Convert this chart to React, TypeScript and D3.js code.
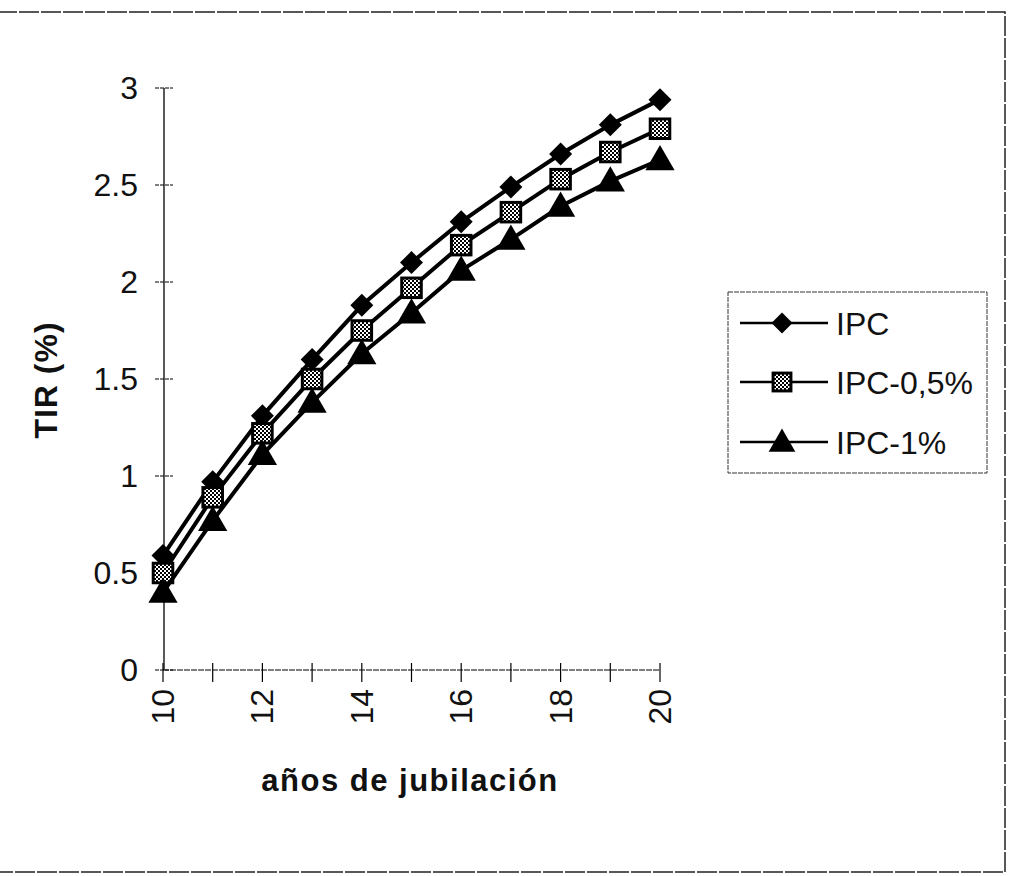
import React from "react";
import * as d3 from "d3";

// Data
const years = [10, 11, 12, 13, 14, 15, 16, 17, 18, 19, 20];
const ipc = [0.59, 0.97, 1.31, 1.6, 1.88, 2.1, 2.31, 2.49, 2.66, 2.81, 2.94];
const ipc05 = [0.5, 0.89, 1.22, 1.5, 1.75, 1.97, 2.19, 2.36, 2.53, 2.67, 2.79];
const ipc1 = [0.4, 0.77, 1.11, 1.38, 1.63, 1.84, 2.06, 2.22, 2.39, 2.52, 2.63];
const yTicks = [0, 0.5, 1, 1.5, 2, 2.5, 3];
const xTickLabels = [10, 12, 14, 16, 18, 20];
const seriesNames = ["IPC", "IPC-0,5%", "IPC-1%"];
const seriesShapes = ["diamond", "square", "triangle"];

const W = 1010;
const H = 876;
const FONT = "'Liberation Sans', Arial, sans-serif";

const Marker = ({ shape, x, y, s }: { shape: string; x: number; y: number; s: number }) => {
  if (shape === "diamond") {
    return (
      <path
        d={`M${x},${y - s}L${x + s},${y}L${x},${y + s}L${x - s},${y}Z`}
        fill="#000"
      />
    );
  }
  if (shape === "square") {
    const h = s * 0.85;
    return (
      <rect
        x={x - h}
        y={y - h}
        width={h * 2}
        height={h * 2}
        fill="url(#checker)"
        stroke="#000"
        strokeWidth={3}
      />
    );
  }
  const sym = d3.symbol().type(d3.symbolTriangle).size(s * s * 2.8)();
  return <path d={sym || ""} transform={`translate(${x},${y + 2})`} fill="#000" />;
};

export default function App() {
  const x = d3.scaleLinear().domain([10, 20]).range([163, 660]);
  const y = d3.scaleLinear().domain([0, 3]).range([670, 88]);
  const allSeries = [ipc, ipc05, ipc1];

  const line = d3
    .line<number>()
    .x((_, i) => x(years[i]))
    .y((d) => y(d));

  const legendY = [323, 382, 442];

  return (
    <svg
      width={W}
      height={H}
      style={{ position: "absolute", left: 0, top: 0, background: "#fff" }}
      fontFamily={FONT}
    >
      <defs>
        <pattern id="checker" width={4} height={4} patternUnits="userSpaceOnUse">
          <rect width={4} height={4} fill="#fff" />
          <rect width={2} height={2} fill="#000" />
          <rect x={2} y={2} width={2} height={2} fill="#000" />
        </pattern>
      </defs>

      {/* outer frame */}
      <rect x={-3} y={12} width={1008} height={860} fill="none" stroke="#222" strokeWidth={1.5} strokeDasharray="20 2" />

      {/* y axis */}
      <line x1={164} x2={164} y1={y(3)} y2={y(0)} stroke="#000" strokeWidth={1.3} />
      {yTicks.map((t) => (
        <g key={t}>
          <line x1={155} x2={173} y1={y(t)} y2={y(t)} stroke="#000" strokeWidth={1} strokeDasharray="4 1" />
          <text x={138} y={y(t) + 11} textAnchor="end" fontSize={32} fill="#111">
            {t}
          </text>
        </g>
      ))}

      {/* x axis */}
      <line x1={x(10)} x2={x(20)} y1={670} y2={670} stroke="#000" strokeWidth={1} strokeDasharray="6 1" />
      {years.map((v) => (
        <line key={v} x1={x(v)} x2={x(v)} y1={663} y2={682} stroke="#000" strokeWidth={1.2} />
      ))}
      {xTickLabels.map((v) => (
        <text
          key={v}
          transform={`translate(${x(v) + 11},689) rotate(-90)`}
          textAnchor="end"
          fontSize={32}
          fill="#111"
        >
          {v}
        </text>
      ))}

      {/* axis titles */}
      <text x={410} y={791} textAnchor="middle" fontSize={31} fontWeight="bold" letterSpacing={1.5} fill="#111">
        años de jubilación
      </text>
      <text
        transform="translate(57,380) rotate(-90)"
        textAnchor="middle"
        fontSize={32}
        fontWeight="bold"
        letterSpacing={1}
        fill="#111"
      >
        TIR (%)
      </text>

      {/* series */}
      {allSeries.map((s, i) => (
        <g key={seriesNames[i]}>
          <path d={line(s) || ""} fill="none" stroke="#000" strokeWidth={4} />
          {s.map((v, j) => (
            <Marker key={j} shape={seriesShapes[i]} x={x(years[j])} y={y(v)} s={11.5} />
          ))}
        </g>
      ))}

      {/* legend */}
      <rect x={728} y={292} width={259} height={181} fill="#fff" stroke="#333" strokeWidth={1} strokeDasharray="5 1" />
      {seriesNames.map((n, i) => (
        <g key={n}>
          <line x1={740} x2={828} y1={legendY[i]} y2={legendY[i]} stroke="#000" strokeWidth={2.5} />
          <Marker shape={seriesShapes[i]} x={782} y={legendY[i]} s={10.5} />
          <text x={836} y={legendY[i] + 12} fontSize={32} fill="#111">
            {n}
          </text>
        </g>
      ))}
    </svg>
  );
}
